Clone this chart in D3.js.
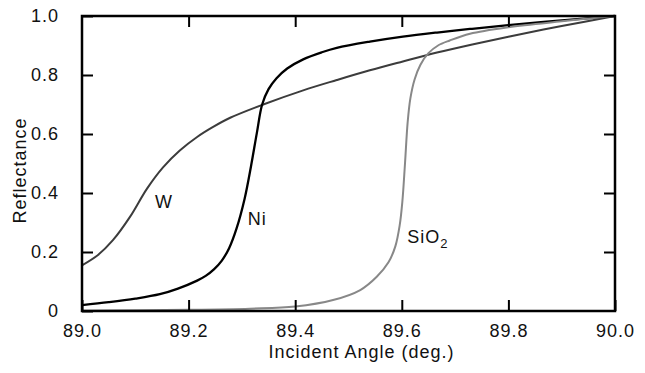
<!DOCTYPE html>
<html>
<head>
<meta charset="utf-8">
<script src="https://cdn.jsdelivr.net/npm/d3@7"></script>
<style>
  body { margin: 0; background: #fff; }
  text { font-family: "Liberation Sans", Arial, sans-serif; fill: #111; letter-spacing: 1px; }
</style>
</head>
<body>
<div id="chart"></div>
<script>
// curves: [angle, reflectance]
const wData = [
  [89.0, 0.155], [89.03, 0.19], [89.058, 0.24], [89.09, 0.319], [89.122, 0.415],
  [89.152, 0.487], [89.184, 0.545], [89.216, 0.59], [89.246, 0.624], [89.278, 0.655],
  [89.34, 0.7], [89.415, 0.748], [89.478, 0.783], [89.54, 0.816], [89.602, 0.846],
  [89.666, 0.876], [89.728, 0.902], [89.8, 0.93], [89.9, 0.966], [90.0, 1.0]
];
const niData = [
  [89.0, 0.02], [89.05, 0.03], [89.1, 0.042], [89.146, 0.057], [89.18, 0.076],
  [89.216, 0.103], [89.232, 0.119], [89.248, 0.142], [89.262, 0.17], [89.276, 0.213],
  [89.29, 0.28], [89.305, 0.38], [89.317, 0.49], [89.328, 0.603], [89.338, 0.7],
  [89.35, 0.752], [89.365, 0.789], [89.385, 0.822], [89.415, 0.853], [89.45, 0.877],
  [89.478, 0.892], [89.54, 0.913], [89.602, 0.93], [89.666, 0.944], [89.728, 0.956],
  [89.8, 0.969], [89.9, 0.985], [90.0, 1.0]
];
const sio2Data = [
  [89.0, 0.001], [89.2, 0.004], [89.315, 0.008], [89.4, 0.015], [89.471, 0.037],
  [89.522, 0.071], [89.553, 0.116], [89.575, 0.165], [89.588, 0.22], [89.596, 0.29],
  [89.601, 0.37], [89.606, 0.5], [89.611, 0.64], [89.616, 0.72], [89.624, 0.785],
  [89.635, 0.835], [89.65, 0.874], [89.668, 0.9], [89.69, 0.917], [89.728, 0.94],
  [89.8, 0.962], [89.9, 0.982], [90.0, 1.0]
];
const xTicks = [89.0, 89.2, 89.4, 89.6, 89.8, 90.0];
const yTicks = [0, 0.2, 0.4, 0.6, 0.8, 1.0];

const W = 645, H = 373;
const margin = { top: 16, right: 30, bottom: 62, left: 82 };
const width = W - margin.left - margin.right;
const height = H - margin.top - margin.bottom;

const svg = d3.select("#chart").append("svg")
  .attr("width", W)
  .attr("height", H);
const g = svg.append("g").attr("transform", `translate(${margin.left},${margin.top})`);

const x = d3.scaleLinear().domain([89.0, 90.0]).range([0, width]);
const y = d3.scaleLinear().domain([0, 1]).range([height, 0]);

const line = d3.line()
  .x(d => x(d[0]))
  .y(d => y(d[1]))
  .curve(d3.curveCatmullRom.alpha(0.5));

// curves
const series = [
  { data: wData, color: "#3c3c3c", w: 2 },
  { data: niData, color: "#000", w: 2.3 },
  { data: sio2Data, color: "#888", w: 2 }
];
series.forEach(s => {
  g.append("path")
    .datum(s.data)
    .attr("fill", "none")
    .attr("stroke", s.color)
    .attr("stroke-width", s.w)
    .attr("d", line);
});

// axes, ticks pointing inward on all four sides
const tickLen = 11;
const styleAxis = sel => {
  sel.select(".domain").remove();
  sel.selectAll(".tick line").attr("stroke", "#000").attr("stroke-width", 2);
  sel.selectAll(".tick text").style("font-size", "18px").attr("fill", "#111");
};
g.append("g")
  .attr("transform", `translate(0,${height})`)
  .call(d3.axisBottom(x).tickValues(xTicks).tickSizeInner(-tickLen).tickSizeOuter(0)
    .tickPadding(13).tickFormat(d3.format(".1f")))
  .call(styleAxis);
g.append("g")
  .call(d3.axisTop(x).tickValues(xTicks.slice(1, -1)).tickSizeInner(-tickLen).tickSizeOuter(0)
    .tickFormat(""))
  .call(styleAxis);
g.append("g")
  .call(d3.axisLeft(y).tickValues(yTicks).tickSizeInner(-tickLen).tickSizeOuter(0)
    .tickPadding(23).tickFormat(d => d === 0 ? "0" : d3.format(".1f")(d)))
  .call(styleAxis);
g.append("g")
  .attr("transform", `translate(${width},0)`)
  .call(d3.axisRight(y).tickValues(yTicks.slice(1, -1)).tickSizeInner(-tickLen).tickSizeOuter(0)
    .tickFormat(""))
  .call(styleAxis);

// frame
g.append("rect")
  .attr("width", width)
  .attr("height", height)
  .attr("fill", "none")
  .attr("stroke", "#000")
  .attr("stroke-width", 2.5);

// curve labels
g.append("text").attr("x", x(89.137)).attr("y", y(0.349)).style("font-size", "18px").text("W");
g.append("text").attr("x", x(89.311)).attr("y", y(0.292)).style("font-size", "18px").text("Ni");
const si = g.append("text").attr("x", x(89.61)).attr("y", y(0.231)).style("font-size", "18px");
si.append("tspan").text("SiO");
si.append("tspan").attr("dy", 5).style("font-size", "13px").text("2");

// axis titles
svg.append("text")
  .attr("x", margin.left + width / 2 + 13)
  .attr("y", 358)
  .attr("text-anchor", "middle")
  .style("font-size", "18px")
  .text("Incident Angle (deg.)");
svg.append("text")
  .attr("transform", `translate(26,${margin.top + height / 2 + 7}) rotate(-90)`)
  .attr("text-anchor", "middle")
  .style("font-size", "18px")
  .text("Reflectance");
</script>
</body>
</html>
